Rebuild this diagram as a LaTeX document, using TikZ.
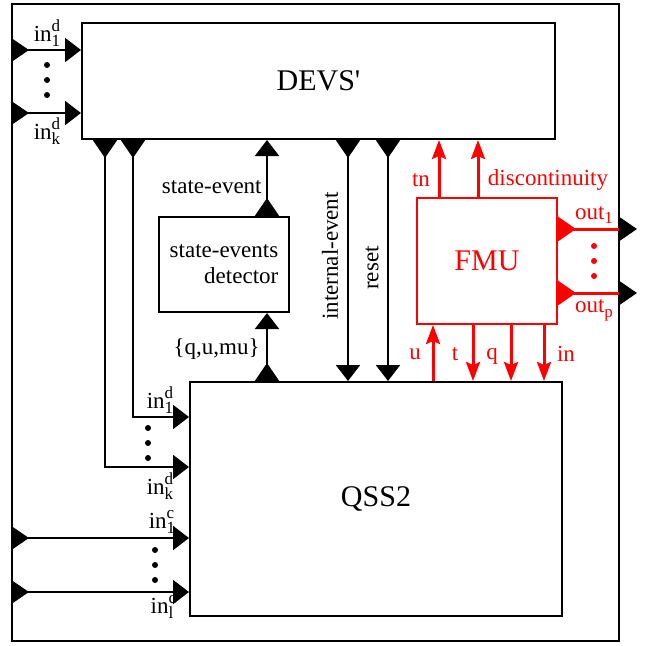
\documentclass[tikz,border=0pt]{standalone}
\usepackage{fontspec}
\setmainfont{Liberation Serif}
\usetikzlibrary{arrows.meta}

\newcommand\portname[3]{#1\rlap{\raisebox{0.95ex}{\fontsize{8.5}{9}\selectfont #2}}\raisebox{-0.45ex}{\fontsize{8.5}{9}\selectfont #3}}

\tikzset{
    box/.style={draw, line width=1pt, inner sep=0pt},
    big/.style={font=\fontsize{15}{17}\selectfont},
    lbl/.style={font=\fontsize{11.5}{13}\selectfont, inner sep=0pt},
    dot/.style={circle, fill, inner sep=0pt, minimum size=3pt},
    port/.style={line width=1pt,
        {Triangle[reversed,length=9pt,width=12pt]}-{Triangle[length=8pt,width=12pt]}},
    sig/.style={red, line width=1.5pt, -{Stealth[length=9.5pt,width=7pt,inset=1.5pt]}},
    outport/.style={red, line width=1.5pt,
        {Triangle[reversed,length=9pt,width=12pt]}-{Triangle[color=black,length=9pt,width=12pt]}}
}

\begin{document}
\begin{tikzpicture}[
    x={(0.5pt,0pt)},
    y={(0pt,-0.5pt)}
]
\useasboundingbox (0,0) rectangle (648,645);

\node[box, minimum width=303.5pt, minimum height=318.5pt] (sys) at (315.5,322.5) {};
\node[box, big, minimum width=236.5pt, minimum height=58pt] (devs) at (318.5,81) {DEVS\textquotesingle};
\node[box, big, minimum width=186pt, minimum height=117pt] (qss) at (376,499) {QSS2};
\node[box, lbl, align=right, minimum width=65pt, minimum height=47.5pt] (det) at (224,264.5) {state-events\\detector};
\node[box, big, draw=red, text=red, minimum width=70pt, minimum height=63pt] (fmu) at (487,261) {FMU};

% black ports
\draw[port] (sys.west |- 0,50) -- (devs.west |- 0,50);
\draw[port] (sys.west |- 0,113) -- (devs.west |- 0,113);
\draw[port] (105,0 |- devs.south) |- (qss.west |- 0,467);
\draw[port] (133,0 |- devs.south) |- (qss.west |- 0,417);
\draw[port] (sys.west |- 0,538) -- (qss.west |- 0,538);
\draw[port] (sys.west |- 0,592) -- (qss.west |- 0,592);
\draw[port] (267,0 |- qss.north) -- (267,0 |- det.south);
\draw[port] (267,0 |- det.north) -- (267,0 |- devs.south);
\draw[port] (348,0 |- devs.south) -- (348,0 |- qss.north);
\draw[port] (388,0 |- devs.south) -- (388,0 |- qss.north);

% fmu signals
\draw[sig] (439,0 |- fmu.north) -- (439,0 |- devs.south);
\draw[sig] (478,0 |- fmu.north) -- (478,0 |- devs.south);
\draw[sig] (433,0 |- qss.north) -- (433,0 |- fmu.south);
\foreach \x in {473,511,544}
    \draw[sig] (\x,0 |- fmu.south) -- (\x,0 |- qss.north);

\coordinate (o1) at (637,229);
\coordinate (op) at (637,293);
\draw[outport] (fmu.east |- o1) -- (o1);
\draw[outport] (fmu.east |- op) -- (op);

% labels
\node[lbl] (ind1) at (47,33) {\portname{in}{d}{1}};
\node[lbl] (indk) at (47,131) {\portname{in}{d}{k}};
\node[lbl] (qind1) at (160,400) {\portname{in}{d}{1}};
\node[lbl] (qindk) at (160,486) {\portname{in}{d}{k}};
\node[lbl] (inc1) at (162,522) {\portname{in}{c}{1}};
\node[lbl] (incl) at (162,607) {\portname{in}{c}{l}};
\node[lbl, anchor=east] (se) at (262,187) {state-event};
\node[lbl, anchor=east] (qum) at (260,349) {\{q,u,mu\}};
\node[lbl, rotate=90] (ie) at (330,256) {internal-event};
\node[lbl, rotate=90] (rs) at (372,268) {reset};
\node[lbl, text=red] (tn) at (421,180) {tn};
\node[lbl, text=red] (disc) at (548,180) {discontinuity};
\node[lbl, text=red] (lu) at (415,354) {u};
\node[lbl, text=red] (lt) at (455,354) {t};
\node[lbl, text=red] (lq) at (492,356) {q};
\node[lbl, text=red] (lin) at (566,354) {in};
\node[lbl, text=red] (out1) at (594,215) {\portname{out}{}{1}};
\node[lbl, text=red] (outp) at (594,310) {\portname{out}{}{p}};

% dots
\foreach \y [count=\i] in {65,80,95}
    \node[dot] (dv\i) at (47,\y) {};
\foreach \y [count=\i] in {428,443,458}
    \node[dot] (dq\i) at (148,\y) {};
\foreach \y [count=\i] in {550,565,580}
    \node[dot] (dc\i) at (155,\y) {};
\foreach \y [count=\i] in {246,261,276}
    \node[dot, red] (do\i) at (594,\y) {};

\end{tikzpicture}
\end{document}
